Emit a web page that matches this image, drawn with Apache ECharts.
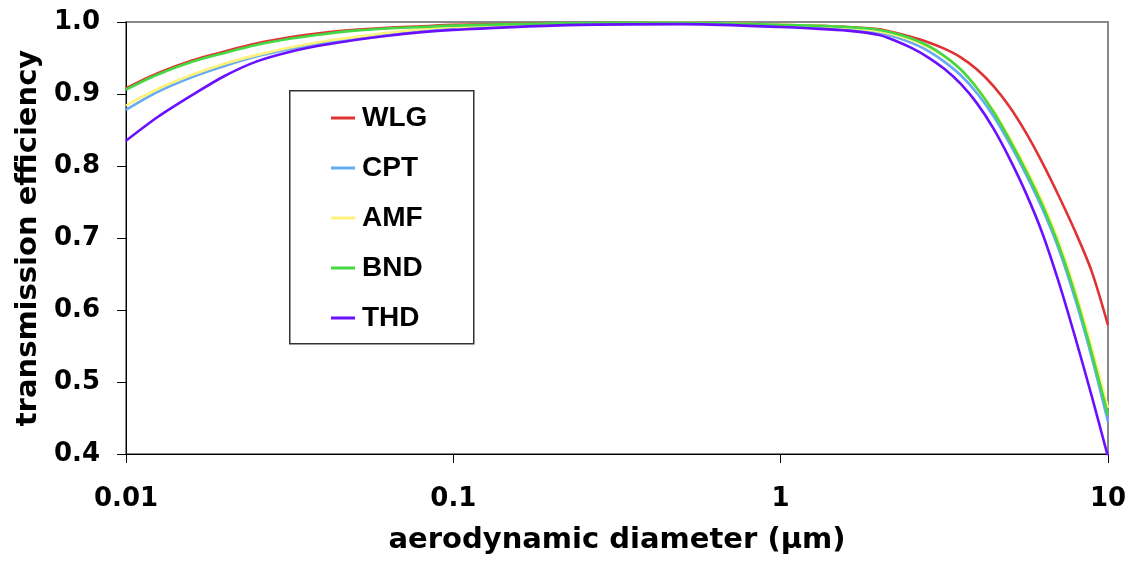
<!DOCTYPE html>
<html>
<head>
<meta charset="utf-8">
<script src="https://cdn.jsdelivr.net/npm/echarts@6/dist/echarts.min.js"></script>
<style>
html,body{margin:0;padding:0;background:#fff;}
#chart{width:1138px;height:566px;}
</style>
</head>
<body>
<div id="chart"></div>
<script>
// aerodynamic diameter (µm)
const diameters = [0.01, 0.0125, 0.016, 0.02, 0.025, 0.032, 0.04, 0.05, 0.063, 0.08, 0.1, 0.2, 0.5, 1, 1.25, 1.6,
  2, 2.24, 2.51, 2.82, 3.16, 3.55, 3.98, 4.47, 5.01, 5.62, 6.31, 7.08, 7.94, 8.91, 10];
const seriesNames = ['WLG', 'CPT', 'AMF', 'BND', 'THD'];
const WLG = [0.908, 0.929, 0.947, 0.959, 0.970, 0.979, 0.985, 0.989, 0.992, 0.994, 0.996, 0.998, 0.999, 0.996, 0.995, 0.993,
  0.990, 0.985, 0.979, 0.972, 0.963, 0.951, 0.934, 0.911, 0.882, 0.846, 0.804, 0.758, 0.709, 0.654, 0.579];
const CPT = [0.878, 0.903, 0.924, 0.939, 0.952, 0.963, 0.971, 0.978, 0.984, 0.989, 0.992, 0.997, 0.998, 0.994, 0.993, 0.990,
  0.985, 0.979, 0.971, 0.960, 0.945, 0.926, 0.901, 0.869, 0.831, 0.788, 0.740, 0.684, 0.615, 0.535, 0.445];
const AMF = [0.884, 0.907, 0.927, 0.942, 0.954, 0.965, 0.973, 0.979, 0.985, 0.990, 0.993, 0.997, 0.999, 0.996, 0.995, 0.992,
  0.987, 0.982, 0.975, 0.965, 0.952, 0.934, 0.909, 0.877, 0.839, 0.797, 0.750, 0.695, 0.628, 0.549, 0.464];
const BND = [0.906, 0.927, 0.945, 0.957, 0.968, 0.977, 0.983, 0.988, 0.991, 0.993, 0.995, 0.998, 0.999, 0.996, 0.995, 0.993,
  0.989, 0.984, 0.977, 0.967, 0.953, 0.934, 0.908, 0.875, 0.836, 0.793, 0.745, 0.689, 0.621, 0.541, 0.454];
const THD = [0.835, 0.868, 0.899, 0.925, 0.945, 0.959, 0.968, 0.975, 0.981, 0.986, 0.989, 0.995, 0.997, 0.993, 0.991, 0.988,
  0.982, 0.974, 0.964, 0.951, 0.935, 0.914, 0.887, 0.852, 0.810, 0.762, 0.706, 0.638, 0.562, 0.481, 0.396];
const xTickLabels = ['0.01', '0.1', '1', '10'];
const yTickLabels = ['0.4', '0.5', '0.6', '0.7', '0.8', '0.9', '1.0'];

const values = { WLG, CPT, AMF, BND, THD };
const colors = { WLG: '#e03232', CPT: '#66aaf5', AMF: '#fff27a', BND: '#44d844', THD: '#6a10ff' };

const chart = echarts.init(document.getElementById('chart'), null, { renderer: 'canvas' });
const tickFont = { fontFamily: 'DejaVu Sans', fontWeight: 'bold', fontSize: 26, color: '#000' };
const titleFont = { fontFamily: 'DejaVu Sans', fontWeight: 'bold', fontSize: 29, color: '#000' };

chart.setOption({
  animation: false,
  backgroundColor: '#fff',
  grid: { left: 126, right: 30, top: 22, bottom: 112, show: true, borderColor: '#888', borderWidth: 2, backgroundColor: 'transparent' },
  xAxis: {
    type: 'log', logBase: 10, min: 0.01, max: 10,
    name: 'aerodynamic diameter (\u03bcm)', nameLocation: 'middle', nameGap: 72,
    nameTextStyle: titleFont,
    axisLine: { show: true, lineStyle: { color: '#000', width: 1 } },
    axisTick: { show: true, inside: false, length: 9, lineStyle: { color: '#000' } },
    minorTick: { show: false },
    splitLine: { show: false },
    axisLabel: Object.assign({ margin: 32, formatter: function (v) {
      const s = String(+v.toPrecision(3));
      return xTickLabels.indexOf(s) >= 0 ? s : '';
    } }, tickFont)
  },
  yAxis: {
    type: 'value', min: 0.4, max: 1.0, interval: 0.1,
    name: 'transmission efficiency', nameLocation: 'middle', nameGap: 82,
    nameTextStyle: titleFont,
    axisLine: { show: true, lineStyle: { color: '#000', width: 1 } },
    axisTick: { show: true, inside: false, length: 9, lineStyle: { color: '#000' } },
    splitLine: { show: false },
    axisLabel: Object.assign({ margin: 26, formatter: function (v) {
      const s = v.toFixed(1);
      return yTickLabels.indexOf(s) >= 0 ? s : '';
    } }, tickFont)
  },
  legend: {
    orient: 'vertical', left: 331, top: 104, padding: 0,
    itemWidth: 24, itemHeight: 3, itemGap: 22,
    icon: 'rect',
    data: seriesNames,
    textStyle: { fontFamily: 'Liberation Sans', fontWeight: 'bold', fontSize: 28, lineHeight: 26, color: '#000', padding: [0, 0, 0, 2] }
  },
  graphic: [{
    type: 'rect', left: 289, top: 90, z: 100, silent: true,
    shape: { width: 184, height: 253 },
    style: { fill: 'transparent', stroke: '#333', lineWidth: 1.5 }
  }],
  series: seriesNames.map(function (name) {
    return {
      name: name, type: 'line', smooth: 0.3, showSymbol: false, symbol: 'none', clip: true,
      color: colors[name],
      lineStyle: { color: colors[name], width: 2.6 },
      data: diameters.map(function (d, i) { return [d, values[name][i]]; })
    };
  })
});
</script>
</body>
</html>
